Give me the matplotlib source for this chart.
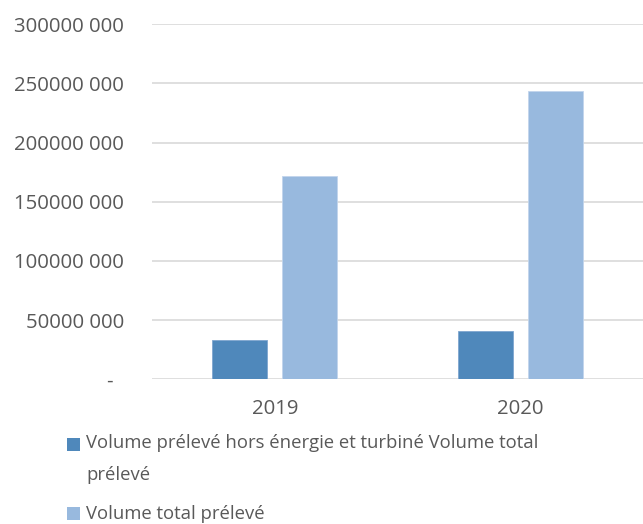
import matplotlib
matplotlib.use("Agg")
import matplotlib.pyplot as plt
import numpy as np
from matplotlib.patches import Rectangle

years = ["2019", "2020"]
hors_energie = [33200000, 40800000]
total_preleve = [171400000, 243800000]
series_labels = [
    "Volume prélevé hors énergie et turbiné Volume total\nprélevé",
    "Volume total prélevé",
]
y_ticks = [0, 50000000, 100000000, 150000000, 200000000, 250000000, 300000000]
y_tick_labels = ["-  ", "50000 000", "100000 000", "150000 000",
                 "200000 000", "250000 000", "300000 000"]

dark_blue = "#4f88bb"
light_blue = "#98b9de"
text_grey = "#595959"
grid_grey = "#d9d9d9"

plt.rcParams["font.family"] = ["Open Sans", "DejaVu Sans"]

W, H = 643, 524
fig = plt.figure(figsize=(W / 100, H / 100), dpi=100)
ax = fig.add_axes([0.2364, 0.2761, 0.7636, 0.6779])

x = np.arange(len(years))
w = 0.225
gap = 0.061
ax.bar(x - (w + gap) / 2, hors_energie, width=w, color=dark_blue,
       edgecolor="#7fa6cf", linewidth=0.6, zorder=3)
ax.bar(x + (w + gap) / 2, total_preleve, width=w, color=light_blue,
       edgecolor="#c2d5ec", linewidth=0.6, zorder=3)

ax.set_xlim(-0.5, 1.5)
ax.set_ylim(0, 300000000)
ax.set_yticks(y_ticks)
ax.set_yticklabels(y_tick_labels)
ax.set_xticks(x)
ax.set_xticklabels(years)
ax.tick_params(axis="both", length=0, labelsize=14.7, colors=text_grey)
ax.tick_params(axis="y", pad=20)
ax.tick_params(axis="x", pad=14)
ax.yaxis.grid(True, color=grid_grey, linewidth=1.2, zorder=0)
for s in ax.spines.values():
    s.set_visible(False)

# legend drawn in figure pixel coordinates
def px(xp, yp):
    return xp / W, 1 - yp / H

legend_rows = [(438, 443, 475), (507, 514, None)]
colors = [dark_blue, light_blue]
for (sq_top, line1, line2), label, c in zip(legend_rows, series_labels, colors):
    x0, y0 = px(67, sq_top + 13)
    fig.add_artist(Rectangle((x0, y0), 13 / W, 13 / H, transform=fig.transFigure,
                             facecolor=c, edgecolor="none"))
    lines = label.split("\n")
    tx, ty = px(86, line1)
    fig.text(tx, ty, lines[0], fontsize=13.3, color=text_grey, va="center", ha="left")
    if len(lines) > 1:
        tx, ty = px(86, line2)
        fig.text(tx, ty, lines[1], fontsize=13.3, color=text_grey, va="center", ha="left")

fig.savefig("out.png", dpi=100)
